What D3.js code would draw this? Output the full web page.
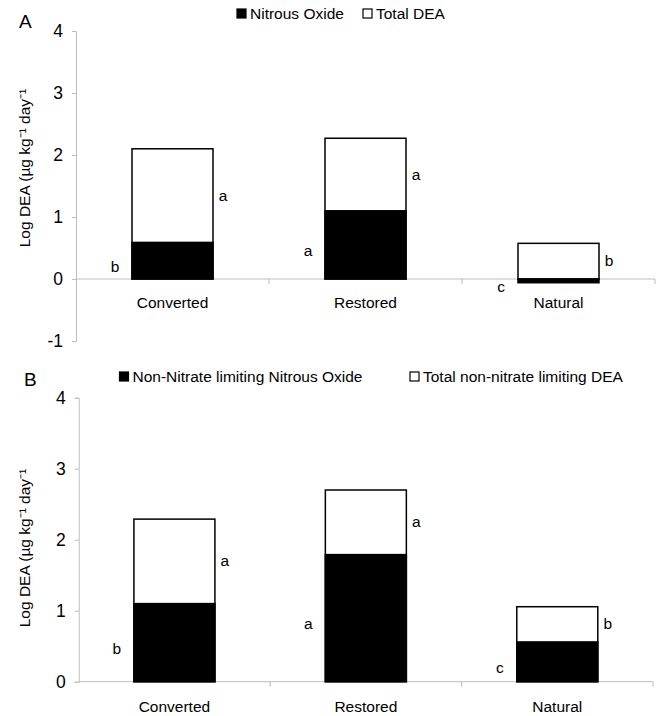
<!DOCTYPE html>
<html>
<head>
<meta charset="utf-8">
<script src="https://cdn.jsdelivr.net/npm/d3@7"></script>
<style>
  html, body { margin: 0; padding: 0; background: #fff; }
  svg { display: block; font-family: "Liberation Sans", Arial, sans-serif; }
</style>
</head>
<body>
<svg id="chart" width="659" height="716"></svg>
<script>
// ---------- data ----------
const categories = ["Converted", "Restored", "Natural"];

// Panel A
const panelA_label = "A";
const panelA_legend = ["Nitrous Oxide", "Total DEA"];
const panelA_n2o = [0.59, 1.10, -0.06];
const panelA_total = [2.10, 2.27, 0.575];
const panelA_letterN2O = ["b", "a", "c"];
const panelA_letterTotal = ["a", "a", "b"];
const panelA_ticks = [-1, 0, 1, 2, 3, 4];

// Panel B
const panelB_label = "B";
const panelB_legend = ["Non-Nitrate limiting Nitrous Oxide", "Total non-nitrate limiting DEA"];
const panelB_n2o = [1.10, 1.79, 0.56];
const panelB_total = [2.29, 2.70, 1.056];
const panelB_letterN2O = ["b", "a", "c"];
const panelB_letterTotal = ["a", "a", "b"];
const panelB_ticks = [0, 1, 2, 3, 4];

const yTitle = "Log DEA (µg kg\u207B\u00B9 day\u207B\u00B9";

// ---------- drawing ----------
const svg = d3.select("#chart");
const FS = 15.5;
const axisColor = "#bdbdbd";

function drawPanel(cfg) {
  const g = svg.append("g");
  const x = d3.scaleBand().domain(categories).range([cfg.x0, cfg.x1]).paddingInner(0).paddingOuter(0);
  const y = d3.scaleLinear().domain([cfg.ticks[0], cfg.ticks[cfg.ticks.length - 1]]).range([cfg.yBottom, cfg.yTop]);
  const barW = 81;
  const bx = c => x(c) + x.bandwidth() / 2 - barW / 2;

  // y axis
  const yAxis = d3.axisLeft(y).tickValues(cfg.ticks).tickSize(4).tickPadding(9).tickFormat(d => String(d));
  const ya = g.append("g").attr("transform", `translate(${cfg.x0},0)`).call(yAxis);
  ya.select(".domain").attr("stroke", axisColor);
  ya.selectAll(".tick line").attr("stroke", axisColor);
  ya.selectAll(".tick text").attr("font-size", FS + 2).attr("fill", "#000").attr("font-family", "Liberation Sans, Arial, sans-serif");

  // x axis line at 0
  const y0 = y(0);
  g.append("line").attr("x1", cfg.x0).attr("x2", cfg.x1).attr("y1", y0).attr("y2", y0).attr("stroke", axisColor);
  const bounds = categories.map(c => x(c)).concat([cfg.x1]).slice(1);
  g.selectAll(".xt").data(bounds).enter().append("line")
    .attr("x1", d => d).attr("x2", d => d).attr("y1", y0).attr("y2", y0 + 5).attr("stroke", axisColor);

  // bars: total (white) then N2O (black)
  const rows = categories.map((c, i) => ({ c, n: cfg.n2o[i], t: cfg.total[i], ln: cfg.letterN2O[i], lt: cfg.letterTotal[i] }));
  g.selectAll(".tot").data(rows).enter().append("rect")
    .attr("x", d => bx(d.c)).attr("width", barW)
    .attr("y", d => y(Math.max(0, d.t))).attr("height", d => Math.abs(y(d.t) - y(0)))
    .attr("fill", "#fff").attr("stroke", "#000").attr("stroke-width", 1.5);
  g.selectAll(".n2o").data(rows).enter().append("rect")
    .attr("x", d => bx(d.c)).attr("width", barW)
    .attr("y", d => y(Math.max(0, d.n))).attr("height", d => Math.abs(y(d.n) - y(0)))
    .attr("fill", "#000").attr("stroke", "#000").attr("stroke-width", 1.5);

  // category labels
  g.selectAll(".cl").data(categories).enter().append("text")
    .attr("x", c => x(c) + x.bandwidth() / 2).attr("y", y0 + cfg.catDy)
    .attr("text-anchor", "middle").attr("font-size", FS).text(c => c);

  // significance letters
  g.selectAll(".ln").data(rows).enter().append("text")
    .attr("x", d => bx(d.c) - 17).attr("y", d => y(d.n / 2) + 11)
    .attr("text-anchor", "middle").attr("font-size", FS).text(d => d.ln);
  g.selectAll(".lt").data(rows).enter().append("text")
    .attr("x", d => bx(d.c) + barW + 10).attr("y", d => y((Math.max(0, d.n) + d.t) / 2) + 5)
    .attr("text-anchor", "middle").attr("font-size", FS).text(d => d.lt);

  // y title
  g.append("text").attr("transform", `translate(${cfg.titleX},${cfg.titleY}) rotate(-90)`)
    .attr("text-anchor", "middle").attr("font-size", FS).text(yTitle);

  // panel label
  g.append("text").attr("x", cfg.labelX).attr("y", cfg.labelY).attr("font-size", 19).text(cfg.label);

  // legend
  cfg.legend.forEach((txt, i) => {
    const lx = cfg.legendX[i];
    g.append("rect").attr("x", lx).attr("y", cfg.legendY - 10).attr("width", 9).attr("height", 9)
      .attr("fill", i === 0 ? "#000" : "#fff").attr("stroke", "#000").attr("stroke-width", 1.2);
    g.append("text").attr("x", lx + 13).attr("y", cfg.legendY).attr("font-size", FS).text(txt);
  });
}

drawPanel({
  x0: 76, x1: 655, yTop: 31, yBottom: 341, ticks: panelA_ticks,
  n2o: panelA_n2o, total: panelA_total, letterN2O: panelA_letterN2O, letterTotal: panelA_letterTotal,
  catDy: 29, titleX: 30, titleY: 168,
  label: panelA_label, labelX: 19, labelY: 28,
  legend: panelA_legend, legendX: [237, 363], legendY: 19
});

drawPanel({
  x0: 78.7, x1: 653, yTop: 397.7, yBottom: 681.7, ticks: panelB_ticks,
  n2o: panelB_n2o, total: panelB_total, letterN2O: panelB_letterN2O, letterTotal: panelB_letterTotal,
  catDy: 30, titleX: 30, titleY: 548,
  label: panelB_label, labelX: 24, labelY: 386,
  legend: panelB_legend, legendX: [119.5, 410], legendY: 382
});
</script>
</body>
</html>
